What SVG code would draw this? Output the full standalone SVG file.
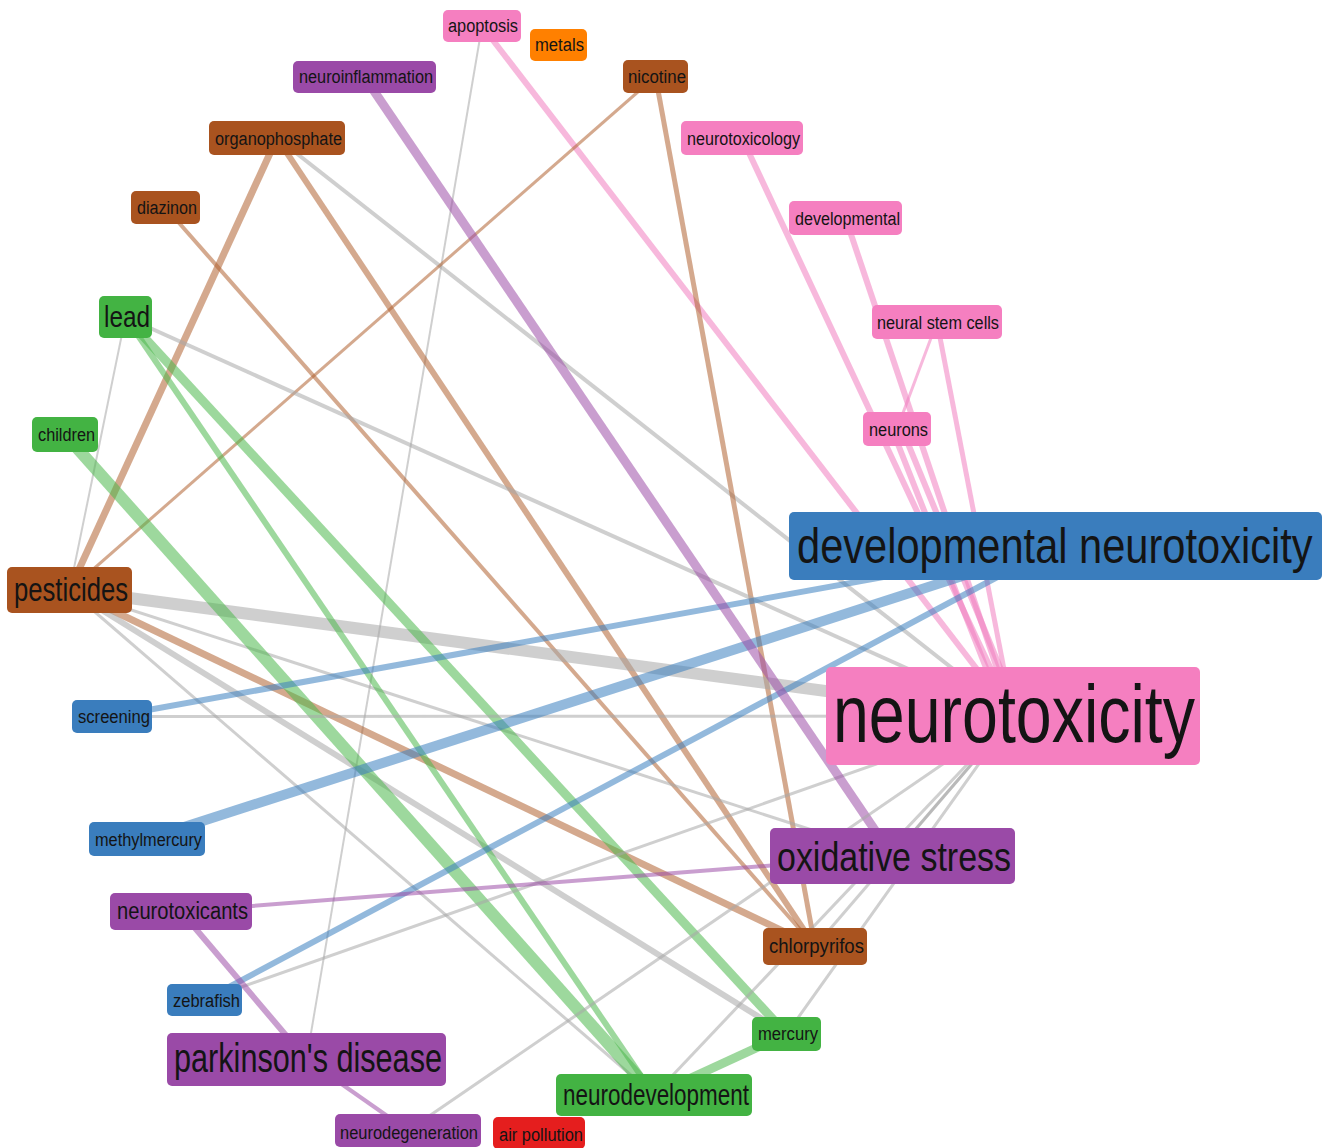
<svg xmlns="http://www.w3.org/2000/svg" width="1333" height="1148" viewBox="0 0 1333 1148">
<style>
  .e{fill:none;stroke-linecap:butt;stroke-opacity:0.55}
  .pk{stroke:#f07ec0}
  .br{stroke:#b06232}
  .gn{stroke:#4cb84c}
  .bl{stroke:#3a7fc0}
  .pu{stroke:#9c4fa8}
  .gy{stroke:#a8a8a8}
  .n rect{rx:5;ry:5}
  .n text{font-family:"Liberation Sans",Arial,sans-serif;fill:#141414}
  .pink rect{fill:#f57fc0}
  .brown rect{fill:#a9531f}
  .purple rect{fill:#9a4aa7}
  .green rect{fill:#43b343}
  .blue rect{fill:#3a7dbd}
  .orange rect{fill:#ff8000}
  .red rect{fill:#e51e1e}
</style>
<rect width="1333" height="1148" fill="#ffffff"/>
<g id="connectors">
  <line class="e gy" x1="482" y1="26" x2="306.5" y2="1059.5" stroke-width="2"/>
  <line class="e pk" x1="482" y1="26" x2="1013" y2="716" stroke-width="6"/>
  <line class="e pk" x1="742" y1="138" x2="1013" y2="716" stroke-width="6"/>
  <line class="e pk" x1="845.5" y1="218" x2="1013" y2="716" stroke-width="6"/>
  <line class="e pk" x1="937" y1="322" x2="897" y2="429" stroke-width="3"/>
  <line class="e pk" x1="937" y1="322" x2="1013" y2="716" stroke-width="5"/>
  <line class="e pk" x1="892" y1="429" x2="1005" y2="716" stroke-width="6"/>
  <line class="e pk" x1="902" y1="429" x2="1020" y2="716" stroke-width="6"/>
  <line class="e br" x1="277" y1="138" x2="69.5" y2="590" stroke-width="7"/>
  <line class="e br" x1="277" y1="138" x2="815" y2="946.5" stroke-width="6"/>
  <line class="e gy" x1="277" y1="138" x2="1013" y2="716" stroke-width="4"/>
  <line class="e br" x1="165.5" y1="207.5" x2="815" y2="946.5" stroke-width="4"/>
  <line class="e br" x1="655.5" y1="76.5" x2="815" y2="946.5" stroke-width="5"/>
  <line class="e br" x1="655.5" y1="76.5" x2="69.5" y2="590" stroke-width="3"/>
  <line class="e br" x1="69.5" y1="590" x2="815" y2="946.5" stroke-width="7"/>
  <line class="e gy" x1="69.5" y1="590" x2="1013" y2="716" stroke-width="12"/>
  <line class="e gy" x1="69.5" y1="590" x2="892.5" y2="856" stroke-width="3"/>
  <line class="e gy" x1="69.5" y1="590" x2="786.5" y2="1034" stroke-width="6"/>
  <line class="e gy" x1="69.5" y1="590" x2="654" y2="1095" stroke-width="3"/>
  <line class="e gy" x1="125.5" y1="317" x2="69.5" y2="590" stroke-width="2"/>
  <line class="e gy" x1="125.5" y1="317" x2="1013" y2="716" stroke-width="4"/>
  <line class="e gn" x1="125.5" y1="317" x2="786.5" y2="1034" stroke-width="9"/>
  <line class="e gn" x1="125.5" y1="317" x2="654" y2="1095" stroke-width="6"/>
  <line class="e gn" x1="65" y1="434.5" x2="654" y2="1095" stroke-width="12"/>
  <line class="e gn" x1="786.5" y1="1034" x2="654" y2="1095" stroke-width="9"/>
  <line class="e bl" x1="112" y1="716.5" x2="1055.5" y2="546" stroke-width="6"/>
  <line class="e gy" x1="112" y1="716.5" x2="1013" y2="716" stroke-width="3"/>
  <line class="e bl" x1="147" y1="839" x2="1055.5" y2="546" stroke-width="10"/>
  <line class="e bl" x1="204.5" y1="1000" x2="1055.5" y2="546" stroke-width="6"/>
  <line class="e gy" x1="204.5" y1="1000" x2="1013" y2="716" stroke-width="3"/>
  <line class="e pu" x1="181" y1="911.5" x2="892.5" y2="856" stroke-width="4"/>
  <line class="e pu" x1="181" y1="911.5" x2="306.5" y2="1059.5" stroke-width="6"/>
  <line class="e pu" x1="306.5" y1="1059.5" x2="408" y2="1130.5" stroke-width="4"/>
  <line class="e pu" x1="364.5" y1="77" x2="892.5" y2="856" stroke-width="9"/>
  <line class="e gy" x1="408" y1="1130.5" x2="1013" y2="716" stroke-width="3"/>
  <line class="e gy" x1="654" y1="1095" x2="1013" y2="716" stroke-width="3"/>
  <line class="e gy" x1="786.5" y1="1034" x2="1013" y2="716" stroke-width="3"/>
  <line class="e gy" x1="815" y1="946.5" x2="1013" y2="716" stroke-width="3"/>
  <line class="e gy" x1="892.5" y1="856" x2="1013" y2="716" stroke-width="3"/>
</g>
<g id="node-apoptosis" class="n pink"><rect x="443" y="10" width="78" height="32"/><text x="448" y="32" font-size="18" textLength="70" lengthAdjust="spacingAndGlyphs">apoptosis</text></g>
<g id="node-metals" class="n orange"><rect x="530" y="29" width="57" height="32"/><text x="535" y="51" font-size="18" textLength="49" lengthAdjust="spacingAndGlyphs">metals</text></g>
<g id="node-neuroinflammation" class="n purple"><rect x="293" y="61" width="143" height="32"/><text x="299" y="83" font-size="18" textLength="134" lengthAdjust="spacingAndGlyphs">neuroinflammation</text></g>
<g id="node-nicotine" class="n brown"><rect x="623" y="60" width="65" height="33"/><text x="628" y="83" font-size="18" textLength="58" lengthAdjust="spacingAndGlyphs">nicotine</text></g>
<g id="node-organophosphate" class="n brown"><rect x="209" y="121" width="136" height="34"/><text x="215" y="145" font-size="18" textLength="127" lengthAdjust="spacingAndGlyphs">organophosphate</text></g>
<g id="node-neurotoxicology" class="n pink"><rect x="681" y="121" width="122" height="34"/><text x="687" y="145" font-size="18" textLength="113" lengthAdjust="spacingAndGlyphs">neurotoxicology</text></g>
<g id="node-diazinon" class="n brown"><rect x="131" y="191" width="69" height="33"/><text x="137" y="214" font-size="18" textLength="60" lengthAdjust="spacingAndGlyphs">diazinon</text></g>
<g id="node-developmental" class="n pink"><rect x="789" y="201" width="113" height="34"/><text x="795" y="225" font-size="18" textLength="105" lengthAdjust="spacingAndGlyphs">developmental</text></g>
<g id="node-neural-stem-cells" class="n pink"><rect x="872" y="305" width="130" height="34"/><text x="877" y="329" font-size="18" textLength="122" lengthAdjust="spacingAndGlyphs">neural stem cells</text></g>
<g id="node-neurons" class="n pink"><rect x="863" y="412" width="68" height="34"/><text x="869" y="436" font-size="18" textLength="59" lengthAdjust="spacingAndGlyphs">neurons</text></g>
<g id="node-lead" class="n green"><rect x="99" y="296" width="53" height="42"/><text x="104" y="327" font-size="30" textLength="46" lengthAdjust="spacingAndGlyphs">lead</text></g>
<g id="node-children" class="n green"><rect x="32" y="417" width="66" height="35"/><text x="38" y="441" font-size="18" textLength="57" lengthAdjust="spacingAndGlyphs">children</text></g>
<g id="node-pesticides" class="n brown"><rect x="7" y="567" width="125" height="46"/><text x="14" y="601" font-size="34" textLength="114" lengthAdjust="spacingAndGlyphs">pesticides</text></g>
<g id="node-developmental-neurotoxicity" class="n blue"><rect x="789" y="512" width="533" height="68"/><text transform="translate(797,563) scale(0.832,1)" x="0" y="0" font-size="50">developmental neurotoxicity</text></g>
<g id="node-neurotoxicity" class="n pink"><rect x="826" y="667" width="374" height="98"/><text x="833" y="742" font-size="82" textLength="362" lengthAdjust="spacingAndGlyphs">neurotoxicity</text></g>
<g id="node-screening" class="n blue"><rect x="72" y="700" width="80" height="33"/><text x="78" y="723" font-size="18" textLength="72" lengthAdjust="spacingAndGlyphs">screening</text></g>
<g id="node-methylmercury" class="n blue"><rect x="89" y="822" width="116" height="34"/><text x="95" y="846" font-size="18" textLength="107" lengthAdjust="spacingAndGlyphs">methylmercury</text></g>
<g id="node-oxidative-stress" class="n purple"><rect x="770" y="828" width="245" height="56"/><text x="777" y="871" font-size="41" textLength="234" lengthAdjust="spacingAndGlyphs">oxidative stress</text></g>
<g id="node-neurotoxicants" class="n purple"><rect x="110" y="893" width="142" height="37"/><text x="117" y="919" font-size="23" textLength="131" lengthAdjust="spacingAndGlyphs">neurotoxicants</text></g>
<g id="node-chlorpyrifos" class="n brown"><rect x="763" y="928" width="104" height="37"/><text x="769" y="953" font-size="21" textLength="95" lengthAdjust="spacingAndGlyphs">chlorpyrifos</text></g>
<g id="node-zebrafish" class="n blue"><rect x="167" y="984" width="75" height="32"/><text x="173" y="1007" font-size="18" textLength="67" lengthAdjust="spacingAndGlyphs">zebrafish</text></g>
<g id="node-mercury" class="n green"><rect x="752" y="1017" width="69" height="34"/><text x="758" y="1040" font-size="18" textLength="60" lengthAdjust="spacingAndGlyphs">mercury</text></g>
<g id="node-parkinsons-disease" class="n purple"><rect x="167" y="1033" width="279" height="53"/><text x="174" y="1072" font-size="41" textLength="268" lengthAdjust="spacingAndGlyphs">parkinson's disease</text></g>
<g id="node-neurodevelopment" class="n green"><rect x="556" y="1074" width="196" height="42"/><text x="563" y="1105" font-size="29" textLength="186" lengthAdjust="spacingAndGlyphs">neurodevelopment</text></g>
<g id="node-neurodegeneration" class="n purple"><rect x="335" y="1114" width="146" height="33"/><text x="340" y="1139" font-size="18" textLength="138" lengthAdjust="spacingAndGlyphs">neurodegeneration</text></g>
<g id="node-air-pollution" class="n red"><rect x="493" y="1117" width="92" height="32"/><text x="499" y="1141" font-size="18" textLength="84" lengthAdjust="spacingAndGlyphs">air pollution</text></g>
</svg>
